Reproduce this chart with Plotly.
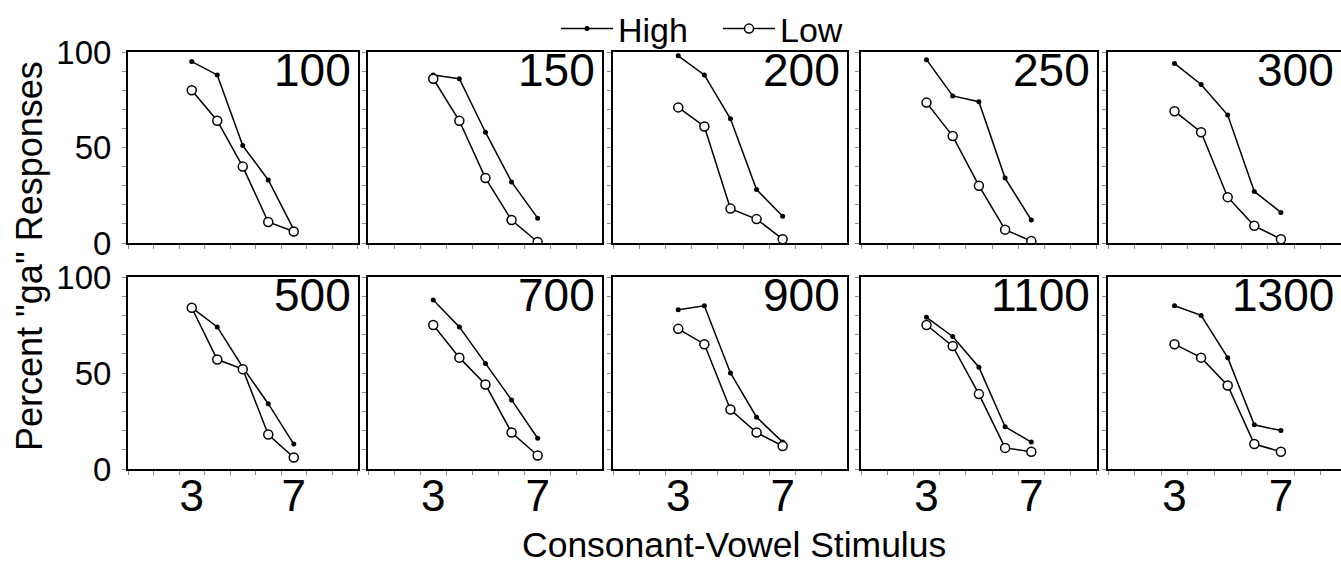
import plotly.graph_objects as go

W, H = 1341, 564

stimulus = [3, 4, 5, 6, 7]
panel_labels = ["100", "150", "200", "250", "300", "500", "700", "900", "1100", "1300"]

high_100 = [95, 88, 51, 33, 7]
high_150 = [88, 86, 58, 32, 13]
high_200 = [98, 88, 65, 28, 14]
high_250 = [96, 77, 74, 34, 12]
high_300 = [94, 83, 67, 27, 16]
high_500 = [84, 74, 53, 34, 13]
high_700 = [88, 74, 55, 36, 16]
high_900 = [83, 85, 50, 27, 14]
high_1100 = [79, 69, 53, 22, 14]
high_1300 = [85, 80, 58, 23, 20]

low_100 = [80, 64, 40, 11, 6]
low_150 = [86, 64, 34, 12, 0.5]
low_200 = [71, 61, 18, 12.5, 2]
low_250 = [73.5, 56, 30, 7, 1]
low_300 = [69, 58, 24, 9, 2]
low_500 = [84, 57, 52, 18, 6]
low_700 = [75, 58, 44, 19, 7]
low_900 = [73, 65, 31, 19, 12]
low_1100 = [75, 64, 39, 11, 9]
low_1300 = [65, 58, 43.5, 13, 9]

high_series = [high_100, high_150, high_200, high_250, high_300,
               high_500, high_700, high_900, high_1100, high_1300]
low_series = [low_100, low_150, low_200, low_250, low_300,
              low_500, low_700, low_900, low_1100, low_1300]

x_tick_vals = [3, 7]
x_tick_text = ["3", "7"]
y_tick_vals = [0, 10, 20, 30, 40, 50, 60, 70, 80, 90, 100]
y_tick_text = ["0", "", "", "", "", "50", "", "", "", "", "100"]

FONT = "Liberation Sans, Arial, sans-serif"

col_px = [(128, 358), (368, 602), (613, 847), (861, 1097), (1108, 1341)]
row_px = [(52, 243), (277, 469)]
col_unit_px = [25.5, 26.1, 26.1, 26.2, 26.6]


def px_x(p):
    return p / W


def px_y(p):
    return 1 - p / H


fig = go.Figure()
annotations = []

for i, lab in enumerate(panel_labels):
    r, c = divmod(i, 5)
    n = i + 1
    xa = "x" if n == 1 else f"x{n}"
    ya = "y" if n == 1 else f"y{n}"
    fig.add_trace(go.Scatter(
        x=stimulus, y=high_series[i], mode="lines+markers", name="High",
        xaxis=xa, yaxis=ya, showlegend=(i == 0), legendgroup="High",
        line=dict(color="black", width=1.5),
        marker=dict(symbol="circle", size=5, color="black"),
    ))
    fig.add_trace(go.Scatter(
        x=stimulus, y=low_series[i], mode="lines+markers", name="Low",
        xaxis=xa, yaxis=ya, showlegend=(i == 0), legendgroup="Low",
        line=dict(color="black", width=1.5),
        marker=dict(symbol="circle", size=9, color="white",
                    line=dict(color="black", width=1.5)),
    ))
    x0, x1 = col_px[c]
    y0, y1 = row_px[r]
    xmax = 0.5 + (x1 - x0) / col_unit_px[c]
    xkey = "xaxis" if n == 1 else f"xaxis{n}"
    ykey = "yaxis" if n == 1 else f"yaxis{n}"
    fig.layout[xkey] = dict(
        domain=[px_x(x0), px_x(x1)], range=[0.5, xmax], anchor=ya,
        showline=True, linecolor="black", linewidth=2, mirror=True,
        tickmode="array", tickvals=x_tick_vals,
        ticktext=x_tick_text if r == 1 else ["", ""],
        showticklabels=(r == 1), ticks="", ticklabelstandoff=-13,
        tickfont=dict(family=FONT, size=44, color="black"),
        minor=dict(tickmode="array",
                   tickvals=[0.5, 1.5, 2.5, 3.5, 4.5, 5.5, 6.5, 7.5, 8.5, 9.5],
                   ticks="outside", ticklen=4, tickwidth=1, tickcolor="#888888",
                   showgrid=False),
        showgrid=False, zeroline=False, automargin=False, fixedrange=True,
    )
    fig.layout[ykey] = dict(
        domain=[px_y(y1), px_y(y0)], range=[0, 100], anchor=xa,
        showline=True, linecolor="black", linewidth=2, mirror=(c != 4),
        tickmode="array", tickvals=y_tick_vals,
        ticktext=y_tick_text if c == 0 else [""] * len(y_tick_vals),
        showticklabels=(c == 0), ticks="outside", ticklen=4, tickwidth=1,
        tickcolor="#888888", ticklabelstandoff=4,
        tickfont=dict(family=FONT, size=33, color="black"),
        showgrid=False, zeroline=False, automargin=False, fixedrange=True,
    )
    annotations.append(dict(
        text=lab, xref="paper", yref="paper",
        x=px_x(min(x1, 1341) - 5), y=px_y(y0 + 18),
        xanchor="right", yanchor="middle", showarrow=False,
        font=dict(family=FONT, size=46, color="black"),
    ))

annotations.append(dict(
    text="Consonant-Vowel Stimulus", xref="paper", yref="paper",
    x=px_x(734), y=px_y(545), xanchor="center", yanchor="middle",
    showarrow=False, font=dict(family=FONT, size=35.5, color="black"),
))
annotations.append(dict(
    text='Percent "ga" Responses', xref="paper", yref="paper",
    x=px_x(29), y=px_y(256), xanchor="center", yanchor="middle",
    textangle=-90, showarrow=False,
    font=dict(family=FONT, size=36, color="black"),
))

fig.update_layout(
    width=W, height=H,
    margin=dict(l=0, r=0, t=0, b=0),
    paper_bgcolor="white", plot_bgcolor="white",
    annotations=annotations,
    showlegend=True,
    legend=dict(orientation="h", x=px_x(556), y=1,
                xanchor="left", yanchor="top",
                font=dict(family=FONT, size=34, color="black"),
                bgcolor="rgba(0,0,0,0)", itemwidth=52,
                entrywidth=95, entrywidthmode="pixels",
                tracegroupgap=0),
    font=dict(family=FONT, color="black"),
)

fig.write_html("out.html", config={"displayModeBar": False},
               post_script="document.body.style.margin='0';")
